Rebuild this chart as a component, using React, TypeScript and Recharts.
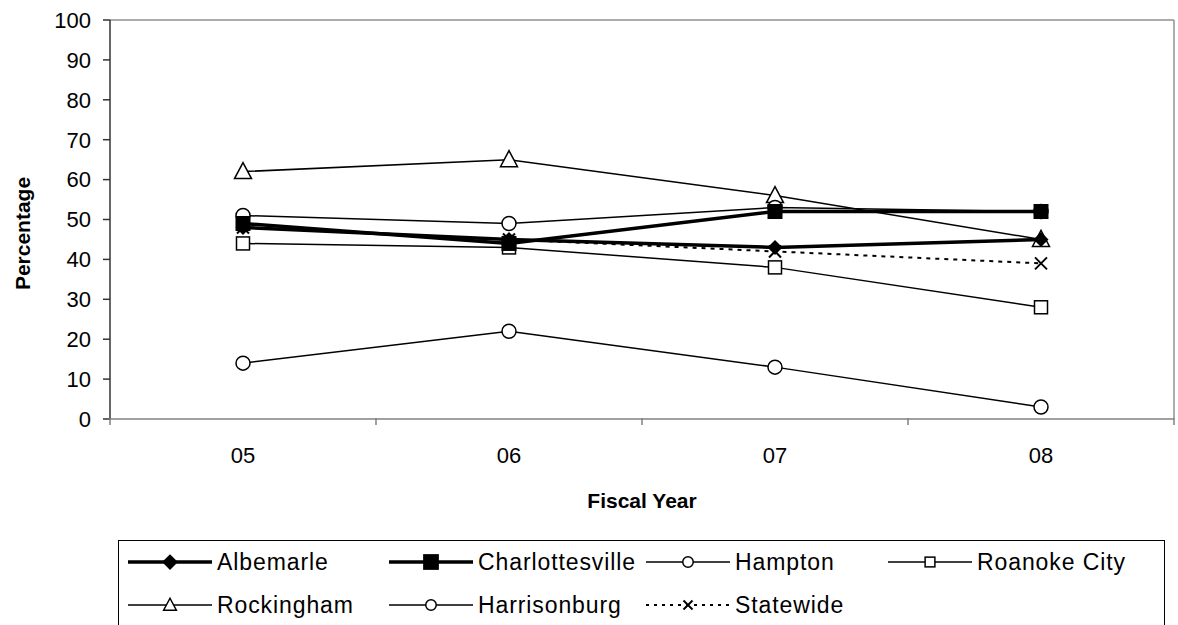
import React from "react";
import {
  LineChart,
  Line,
  XAxis,
  YAxis,
  Legend,
  ReferenceLine,
} from "recharts";

// Fiscal years on the category axis
const YEARS = ["05", "06", "07", "08"];

// Percentage per locality, one value per fiscal year
const ALBEMARLE = [48, 45, 43, 45];
const CHARLOTTESVILLE = [49, 44, 52, 52];
const HAMPTON = [14, 22, 13, 3];
const ROANOKE_CITY = [44, 43, 38, 28];
const ROCKINGHAM = [62, 65, 56, 45];
const HARRISONBURG = [51, 49, 53, 52];
const STATEWIDE = [48, 45, 42, 39];

const Y_TICKS = [0, 10, 20, 30, 40, 50, 60, 70, 80, 90, 100];

const FONT = '"Liberation Sans", Arial, sans-serif';

// chart layout
const W = 1178;
const H = 625;
const Y_AXIS_W = 110;
const RIGHT_W = 4;
const PLOT_W = W - Y_AXIS_W - RIGHT_W;
const BAND = PLOT_W / YEARS.length;

type MarkerKind = "diamond" | "square" | "openSquare" | "circle" | "triangle" | "cross";

type Series = {
  key: string;
  name: string;
  values: number[];
  marker: MarkerKind;
  width: number;
  dash?: string;
};

// drawn in this order, later ones on top
const SERIES: Series[] = [
  { key: "rockingham", name: "Rockingham", values: ROCKINGHAM, marker: "triangle", width: 1.5 },
  { key: "harrisonburg", name: "Harrisonburg", values: HARRISONBURG, marker: "circle", width: 1.5 },
  { key: "hampton", name: "Hampton", values: HAMPTON, marker: "circle", width: 1.5 },
  { key: "roanoke", name: "Roanoke City", values: ROANOKE_CITY, marker: "openSquare", width: 1.5 },
  { key: "statewide", name: "Statewide", values: STATEWIDE, marker: "cross", width: 2, dash: "4 5" },
  { key: "charlottesville", name: "Charlottesville", values: CHARLOTTESVILLE, marker: "square", width: 3.5 },
  { key: "albemarle", name: "Albemarle", values: ALBEMARLE, marker: "diamond", width: 3.5 },
];

// legend order and placement (column, row)
const LEGEND_ORDER = [
  { key: "albemarle", col: 0, row: 0 },
  { key: "charlottesville", col: 1, row: 0 },
  { key: "hampton", col: 2, row: 0 },
  { key: "roanoke", col: 3, row: 0 },
  { key: "rockingham", col: 0, row: 1 },
  { key: "harrisonburg", col: 1, row: 1 },
  { key: "statewide", col: 2, row: 1 },
];
const LEGEND_COLS = [9, 270, 527, 769];
const LEGEND_ROWS = [21, 64];

const data = YEARS.map((year, i) => {
  const row: Record<string, string | number> = { year };
  for (const s of SERIES) row[s.key] = s.values[i];
  return row;
});

function Marker({ kind, cx, cy, size = 1 }: { kind: MarkerKind; cx: number; cy: number; size?: number }) {
  if (cx == null || cy == null) return null;
  switch (kind) {
    case "diamond": {
      const r = 7.5 * size;
      return <path d={`M${cx},${cy - r}L${cx + r},${cy}L${cx},${cy + r}L${cx - r},${cy}Z`} fill="#000" />;
    }
    case "square": {
      const r = 7.5 * size;
      return <rect x={cx - r} y={cy - r} width={r * 2} height={r * 2} fill="#000" />;
    }
    case "openSquare": {
      const r = 6.5 * size;
      return <rect x={cx - r} y={cy - r} width={r * 2} height={r * 2} fill="#fff" stroke="#000" strokeWidth={1.5} />;
    }
    case "circle":
      return <circle cx={cx} cy={cy} r={7 * size} fill="#fff" stroke="#000" strokeWidth={1.5} />;
    case "triangle": {
      const w = 8.5 * size;
      return (
        <path
          d={`M${cx},${cy - 9 * size}L${cx + w},${cy + 7 * size}L${cx - w},${cy + 7 * size}Z`}
          fill="#fff"
          stroke="#000"
          strokeWidth={1.5}
        />
      );
    }
    case "cross": {
      const r = 6 * size;
      return (
        <g stroke="#000" strokeWidth={2}>
          <line x1={cx - r} y1={cy - r} x2={cx + r} y2={cy + r} />
          <line x1={cx - r} y1={cy + r} x2={cx + r} y2={cy - r} />
        </g>
      );
    }
  }
  return null;
}

// category label in the band centre, tick marks on the band edges
function YearTick(props: any) {
  const { x, y, payload, index } = props;
  const last = index === YEARS.length - 1;
  const top = y - 9;
  return (
    <g>
      <line x1={x - BAND / 2} y1={top} x2={x - BAND / 2} y2={top + 7} stroke="#808080" strokeWidth={1.5} />
      {last && <line x1={x + BAND / 2} y1={top} x2={x + BAND / 2} y2={top + 7} stroke="#808080" strokeWidth={1.5} />}
      <text x={x} y={y + 36} textAnchor="middle" fontSize={22} fontFamily={FONT} fill="#000">
        {payload.value}
      </text>
    </g>
  );
}

function LegendBox() {
  return (
    <div
      style={{
        position: "relative",
        width: 1047,
        height: 90,
        border: "1.5px solid #000",
        borderBottom: "none",
        boxSizing: "border-box",
        background: "#fff",
        fontFamily: FONT,
        fontSize: 23,
        color: "#000",
      }}
    >
      {LEGEND_ORDER.map(({ key, col, row }) => {
        const s = SERIES.find((x) => x.key === key)!;
        return (
          <div
            key={key}
            style={{
              position: "absolute",
              left: LEGEND_COLS[col],
              top: LEGEND_ROWS[row] - 13,
              height: 26,
              display: "flex",
              alignItems: "center",
              whiteSpace: "nowrap",
            }}
          >
            <svg width={84} height={26} style={{ display: "block" }}>
              <line
                x1={0}
                y1={13}
                x2={84}
                y2={13}
                stroke="#000"
                strokeWidth={s.width}
                strokeDasharray={s.dash ? "3 5" : undefined}
              />
              <Marker kind={s.marker} cx={42} cy={13} size={s.width > 3 ? 1.05 : 0.75} />
            </svg>
            <span style={{ marginLeft: 5, letterSpacing: 0.9 }}>{s.name}</span>
          </div>
        );
      })}
    </div>
  );
}

export default function App() {
  return (
    <div style={{ position: "absolute", left: 0, top: 0, width: W, height: H, background: "#fff" }}>
      <LineChart
        width={W}
        height={H}
        data={data}
        margin={{ top: 20, right: 0, bottom: 0, left: 0 }}
        style={{ fontFamily: FONT }}
      >
        <XAxis
          dataKey="year"
          scale="band"
          height={121}
          tickLine={false}
          axisLine={{ stroke: "#808080", strokeWidth: 1.5 }}
          tick={<YearTick />}
          interval={0}
          label={{
            value: "Fiscal Year",
            position: "insideBottom",
            offset: 32,
            fontSize: 21,
            fontWeight: "bold",
            fill: "#000",
            fontFamily: FONT,
          }}
        />
        <YAxis
          width={Y_AXIS_W}
          domain={[0, 100]}
          ticks={Y_TICKS}
          interval={0}
          tickSize={7}
          tickMargin={12}
          tickLine={{ stroke: "#333", strokeWidth: 1.5 }}
          axisLine={{ stroke: "#333", strokeWidth: 1.5 }}
          tick={{ fontSize: 22, fill: "#000", fontFamily: FONT }}
          label={{
            content: ({ viewBox }: any) => {
              const cx = viewBox.x + 22;
              const cy = viewBox.y + viewBox.height / 2 + 14;
              return (
                <text
                  x={cx}
                  y={cy}
                  transform={`rotate(-90, ${cx}, ${cy})`}
                  textAnchor="middle"
                  dominantBaseline="central"
                  fontSize={21}
                  fontWeight="bold"
                  fontFamily={FONT}
                  fill="#000"
                >
                  Percentage
                </text>
              );
            },
          }}
        />
        <YAxis
          yAxisId="frame"
          orientation="right"
          width={RIGHT_W}
          domain={[0, 100]}
          tick={false}
          tickLine={false}
          axisLine={{ stroke: "#909090", strokeWidth: 1.5 }}
        />
        <ReferenceLine y={100} stroke="#909090" strokeWidth={1.5} />
        <Legend
          verticalAlign="bottom"
          content={() => <LegendBox />}
          wrapperStyle={{ left: 118, top: 540, width: 1047, height: 85, overflow: "hidden" }}
        />
        {SERIES.map((s) => (
          <Line
            key={s.key}
            dataKey={s.key}
            name={s.name}
            type="linear"
            stroke="#000"
            strokeWidth={s.width}
            strokeDasharray={s.dash}
            isAnimationActive={false}
            activeDot={false}
            dot={(p: any) => <Marker key={`${s.key}-${p.index}`} kind={s.marker} cx={p.cx} cy={p.cy} />}
          />
        ))}
      </LineChart>
    </div>
  );
}
